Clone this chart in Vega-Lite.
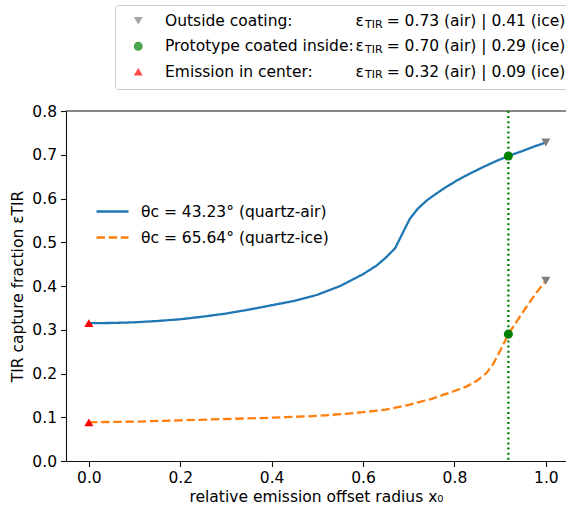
{
  "$schema": "https://vega.github.io/schema/vega-lite/v6.json",
  "width": 500,
  "height": 350,
  "autosize": {"type": "none"},
  "padding": {"left": 66, "top": 111, "right": 0, "bottom": 47},
  "background": "white",
  "config": {
    "font": "DejaVu Sans",
    "view": {"stroke": null},
    "axis": {
      "domainColor": "#111",
      "domainWidth": 1.1,
      "tickColor": "#111",
      "tickWidth": 1.1,
      "tickSize": 5.5,
      "labelFontSize": 15.5,
      "titleFontSize": 15.5,
      "labelColor": "#000",
      "titleColor": "#000",
      "titleFontWeight": "normal",
      "labelFont": "DejaVu Sans",
      "titleFont": "DejaVu Sans",
      "grid": false,
      "labelFlush": false
    },
    "legend": {
      "labelFont": "DejaVu Sans",
      "labelFontSize": 15.5,
      "labelColor": "#000",
      "labelLimit": 800
    }
  },
  "layer": [
    {
      "data": {"values": [{"top": 0.8}]},
      "mark": {"type": "rule", "color": "#111", "strokeWidth": 1.1},
      "encoding": {"y": {"field": "top", "type": "quantitative"}}
    },
    {
      "data": {"values": [
        {"series": "θc = 43.23° (quartz-air)", "x0": 0.0, "eps": 0.315},
        {"series": "θc = 43.23° (quartz-air)", "x0": 0.05, "eps": 0.3155},
        {"series": "θc = 43.23° (quartz-air)", "x0": 0.1, "eps": 0.317},
        {"series": "θc = 43.23° (quartz-air)", "x0": 0.15, "eps": 0.32},
        {"series": "θc = 43.23° (quartz-air)", "x0": 0.2, "eps": 0.324},
        {"series": "θc = 43.23° (quartz-air)", "x0": 0.25, "eps": 0.33},
        {"series": "θc = 43.23° (quartz-air)", "x0": 0.3, "eps": 0.337},
        {"series": "θc = 43.23° (quartz-air)", "x0": 0.35, "eps": 0.346},
        {"series": "θc = 43.23° (quartz-air)", "x0": 0.4, "eps": 0.356},
        {"series": "θc = 43.23° (quartz-air)", "x0": 0.45, "eps": 0.366},
        {"series": "θc = 43.23° (quartz-air)", "x0": 0.5, "eps": 0.38},
        {"series": "θc = 43.23° (quartz-air)", "x0": 0.55, "eps": 0.4},
        {"series": "θc = 43.23° (quartz-air)", "x0": 0.6, "eps": 0.427},
        {"series": "θc = 43.23° (quartz-air)", "x0": 0.63, "eps": 0.447},
        {"series": "θc = 43.23° (quartz-air)", "x0": 0.65, "eps": 0.465},
        {"series": "θc = 43.23° (quartz-air)", "x0": 0.67, "eps": 0.486},
        {"series": "θc = 43.23° (quartz-air)", "x0": 0.702, "eps": 0.553},
        {"series": "θc = 43.23° (quartz-air)", "x0": 0.72, "eps": 0.577},
        {"series": "θc = 43.23° (quartz-air)", "x0": 0.74, "eps": 0.596},
        {"series": "θc = 43.23° (quartz-air)", "x0": 0.76, "eps": 0.611},
        {"series": "θc = 43.23° (quartz-air)", "x0": 0.78, "eps": 0.625},
        {"series": "θc = 43.23° (quartz-air)", "x0": 0.805, "eps": 0.641},
        {"series": "θc = 43.23° (quartz-air)", "x0": 0.83, "eps": 0.655},
        {"series": "θc = 43.23° (quartz-air)", "x0": 0.863, "eps": 0.672},
        {"series": "θc = 43.23° (quartz-air)", "x0": 0.89, "eps": 0.685},
        {"series": "θc = 43.23° (quartz-air)", "x0": 0.918, "eps": 0.697},
        {"series": "θc = 43.23° (quartz-air)", "x0": 0.95, "eps": 0.709},
        {"series": "θc = 43.23° (quartz-air)", "x0": 0.975, "eps": 0.719},
        {"series": "θc = 43.23° (quartz-air)", "x0": 1.0, "eps": 0.728},
        {"series": "θc = 65.64° (quartz-ice)", "x0": 0.0, "eps": 0.0884},
        {"series": "θc = 65.64° (quartz-ice)", "x0": 0.1, "eps": 0.09},
        {"series": "θc = 65.64° (quartz-ice)", "x0": 0.2, "eps": 0.093},
        {"series": "θc = 65.64° (quartz-ice)", "x0": 0.3, "eps": 0.096},
        {"series": "θc = 65.64° (quartz-ice)", "x0": 0.4, "eps": 0.099},
        {"series": "θc = 65.64° (quartz-ice)", "x0": 0.5, "eps": 0.103},
        {"series": "θc = 65.64° (quartz-ice)", "x0": 0.55, "eps": 0.107},
        {"series": "θc = 65.64° (quartz-ice)", "x0": 0.6, "eps": 0.1115},
        {"series": "θc = 65.64° (quartz-ice)", "x0": 0.65, "eps": 0.1175},
        {"series": "θc = 65.64° (quartz-ice)", "x0": 0.7, "eps": 0.1285},
        {"series": "θc = 65.64° (quartz-ice)", "x0": 0.75, "eps": 0.142},
        {"series": "θc = 65.64° (quartz-ice)", "x0": 0.775, "eps": 0.151},
        {"series": "θc = 65.64° (quartz-ice)", "x0": 0.8, "eps": 0.16},
        {"series": "θc = 65.64° (quartz-ice)", "x0": 0.826, "eps": 0.17},
        {"series": "θc = 65.64° (quartz-ice)", "x0": 0.85, "eps": 0.184},
        {"series": "θc = 65.64° (quartz-ice)", "x0": 0.87, "eps": 0.201},
        {"series": "θc = 65.64° (quartz-ice)", "x0": 0.885, "eps": 0.222},
        {"series": "θc = 65.64° (quartz-ice)", "x0": 0.9, "eps": 0.252},
        {"series": "θc = 65.64° (quartz-ice)", "x0": 0.918, "eps": 0.29},
        {"series": "θc = 65.64° (quartz-ice)", "x0": 0.94, "eps": 0.325},
        {"series": "θc = 65.64° (quartz-ice)", "x0": 0.96, "eps": 0.356},
        {"series": "θc = 65.64° (quartz-ice)", "x0": 0.98, "eps": 0.386},
        {"series": "θc = 65.64° (quartz-ice)", "x0": 1.0, "eps": 0.412}
      ]},
      "mark": {"type": "line", "strokeWidth": 2.3},
      "encoding": {
        "x": {
          "field": "x0", "type": "quantitative",
          "scale": {"domain": [-0.05, 1.0441], "nice": false, "zero": false},
          "axis": {"values": [0, 0.2, 0.4, 0.6, 0.8, 1.0], "format": ".1f", "labelPadding": 4, "titlePadding": 3, "title": "relative emission offset radius x₀"}
        },
        "y": {
          "field": "eps", "type": "quantitative",
          "scale": {"domain": [0, 0.8], "nice": false},
          "axis": {"values": [0, 0.1, 0.2, 0.3, 0.4, 0.5, 0.6, 0.7, 0.8], "format": ".1f", "labelPadding": 4, "titlePadding": 6, "title": "TIR capture fraction εTIR"}
        },
        "stroke": {
          "field": "series", "type": "nominal",
          "scale": {"domain": ["θc = 43.23° (quartz-air)", "θc = 65.64° (quartz-ice)"], "range": ["#1f77b4", "#ff7f0e"]},
          "legend": {"orient": "none", "legendX": 29, "legendY": 83, "title": null, "padding": 0, "symbolType": "stroke", "symbolSize": 1024, "symbolStrokeWidth": 2.3, "labelOffset": 11, "rowPadding": -7}
        },
        "strokeDash": {
          "field": "series", "type": "nominal",
          "scale": {"domain": ["θc = 43.23° (quartz-air)", "θc = 65.64° (quartz-ice)"], "range": [[1, 0], [8.5, 3.7]]},
          "legend": {"orient": "none", "legendX": 29, "legendY": 83, "title": null, "padding": 0, "symbolType": "stroke", "symbolSize": 1024, "symbolStrokeWidth": 2.3, "labelOffset": 11, "rowPadding": -7}
        }
      }
    },
    {
      "data": {"values": [{"xv": 0.918}]},
      "mark": {"type": "rule", "color": "green", "strokeWidth": 2.3, "strokeDash": [2, 3.1]},
      "encoding": {"x": {"field": "xv", "type": "quantitative"}}
    },
    {
      "data": {"values": [
        {"kind": "Outside coating:", "eq": "= 0.73 (air) | 0.41 (ice)", "x0": 1.0, "eps": 0.728},
        {"kind": "Outside coating:", "eq": "= 0.73 (air) | 0.41 (ice)", "x0": 1.0, "eps": 0.412},
        {"kind": "Prototype coated inside:", "eq": "= 0.70 (air) | 0.29 (ice)", "x0": 0.918, "eps": 0.697},
        {"kind": "Prototype coated inside:", "eq": "= 0.70 (air) | 0.29 (ice)", "x0": 0.918, "eps": 0.29},
        {"kind": "Emission in center:", "eq": "= 0.32 (air) | 0.09 (ice)", "x0": 0.0, "eps": 0.315},
        {"kind": "Emission in center:", "eq": "= 0.32 (air) | 0.09 (ice)", "x0": 0.0, "eps": 0.0884}
      ]},
      "mark": {"type": "point", "filled": true, "strokeWidth": 0},
      "encoding": {
        "x": {"field": "x0", "type": "quantitative"},
        "y": {"field": "eps", "type": "quantitative"},
        "shape": {
          "field": "kind", "type": "nominal",
          "scale": {"domain": ["Outside coating:", "Prototype coated inside:", "Emission in center:"], "range": ["triangle-down", "circle", "triangle-up"]},
          "legend": {"orient": "none", "legendX": 49, "legendY": -106, "title": null, "padding": 8, "strokeColor": "#cccccc", "fillColor": "#ffffff", "cornerRadius": 3, "symbolSize": 80, "symbolOffset": 7.5, "labelOffset": 19, "rowPadding": 8.5,
            "labelExpr": "datum.label + '\u00a0\u00a0\u00a0\u00a0\u00a0\u00a0\u00a0\u00a0\u00a0\u00a0\u00a0\u00a0\u00a0\u00a0\u00a0\u00a0\u00a0\u00a0\u00a0\u00a0\u00a0\u00a0\u00a0\u00a0\u00a0\u00a0\u00a0\u00a0\u00a0\u00a0\u00a0\u00a0\u00a0\u00a0\u00a0\u00a0\u00a0\u00a0\u00a0\u00a0\u00a0\u00a0\u00a0\u00a0\u00a0\u200b'"}
        },
        "color": {
          "field": "kind", "type": "nominal",
          "scale": {"domain": ["Outside coating:", "Prototype coated inside:", "Emission in center:"], "range": ["gray", "green", "red"]},
          "legend": {"orient": "none", "legendX": 49, "legendY": -106, "title": null, "padding": 8, "strokeColor": "#cccccc", "fillColor": "#ffffff", "cornerRadius": 3, "symbolSize": 80, "symbolOffset": 7.5, "labelOffset": 19, "rowPadding": 8.5,
            "labelExpr": "datum.label + '\u00a0\u00a0\u00a0\u00a0\u00a0\u00a0\u00a0\u00a0\u00a0\u00a0\u00a0\u00a0\u00a0\u00a0\u00a0\u00a0\u00a0\u00a0\u00a0\u00a0\u00a0\u00a0\u00a0\u00a0\u00a0\u00a0\u00a0\u00a0\u00a0\u00a0\u00a0\u00a0\u00a0\u00a0\u00a0\u00a0\u00a0\u00a0\u00a0\u00a0\u00a0\u00a0\u00a0\u00a0\u00a0\u200b'"}
        },
        "size": {
          "field": "eq", "type": "ordinal",
          "scale": {"type": "ordinal", "domain": ["= 0.73 (air) | 0.41 (ice)", "= 0.70 (air) | 0.29 (ice)", "= 0.32 (air) | 0.09 (ice)"], "range": [82, 82, 82]},
          "legend": {"orient": "none", "legendX": 274, "legendY": -98, "title": null, "padding": 0, "symbolOpacity": 0, "symbolFillColor": "transparent", "symbolStrokeColor": "transparent", "symbolStrokeWidth": 0, "labelOffset": 0, "rowPadding": 8.5,
            "labelExpr": "'ε\u00a0\u00a0\u00a0\u00a0\u2009' + datum.label"}
        },
        "opacity": {
          "field": "x0", "type": "ordinal",
          "scale": {"type": "ordinal", "domain": [1, 0.918, 0], "range": [1, 1, 1]},
          "legend": {"orient": "none", "legendX": 288, "legendY": -92, "title": null, "padding": 0, "symbolSize": 0, "symbolFillColor": "transparent", "symbolStrokeColor": "transparent", "symbolStrokeWidth": 0, "labelOffset": 0, "rowPadding": 13, "labelFontSize": 11,
            "labelExpr": "'TIR'"}
        }
      }
    }
  ]
}
